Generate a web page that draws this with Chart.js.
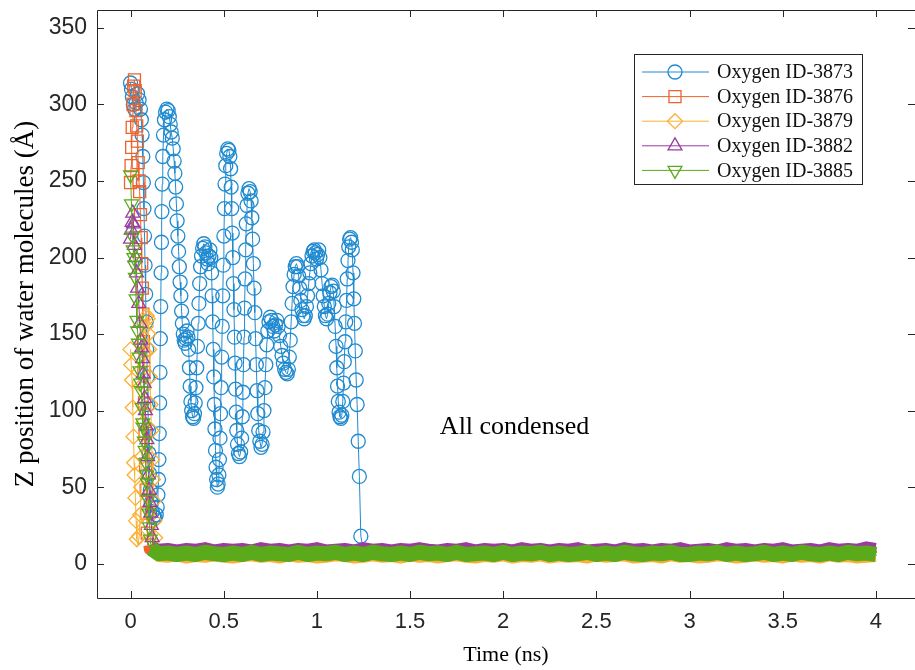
<!DOCTYPE html>
<html>
<head>
<meta charset="utf-8">
<script src="https://cdn.jsdelivr.net/npm/chart.js@4.4.0/dist/chart.umd.min.js"></script>
<style>
html, body { margin: 0; padding: 0; background: #fff; overflow: hidden; }
</style>
</head>
<body>
<canvas id="chart" width="915" height="670"></canvas>
<script>
// series names (legend order)
const seriesNames = ['Oxygen ID-3873', 'Oxygen ID-3876', 'Oxygen ID-3879', 'Oxygen ID-3882', 'Oxygen ID-3885'];

// axis ticks
const xTicks = [0, 0.5, 1, 1.5, 2, 2.5, 3, 3.5, 4];
const yTicks = [0, 50, 100, 150, 200, 250, 300, 350];

// Oxygen ID-3873 : bouncing part (time in ns, z in Å)
const blueTime = [
  0.000, 0.005, 0.010, 0.015, 0.022, 0.030, 0.038, 0.046, 0.053, 0.058, 0.062, 0.066, 0.069, 0.072, 0.075, 0.078,
  0.081, 0.084, 0.087, 0.090, 0.093, 0.096, 0.099, 0.102, 0.106, 0.111, 0.117, 0.124, 0.131, 0.138, 0.143,
  0.147, 0.150, 0.152, 0.154, 0.156, 0.158, 0.160, 0.162, 0.164, 0.166, 0.168, 0.170, 0.173, 0.177, 0.182,
  0.188, 0.195, 0.202, 0.208, 0.213, 0.218,
  0.224, 0.229, 0.234, 0.238, 0.242, 0.246, 0.250, 0.254, 0.258, 0.262, 0.266, 0.270, 0.274, 0.278, 0.283,
  0.288, 0.293, 0.298, 0.303, 0.308, 0.312, 0.316, 0.320, 0.324, 0.328, 0.333, 0.338, 0.343, 0.347, 0.351,
  0.355, 0.359, 0.363, 0.367, 0.371, 0.376, 0.381, 0.387, 0.393, 0.399, 0.405, 0.411, 0.416, 0.421, 0.426,
  0.431, 0.435, 0.438, 0.441, 0.444, 0.447, 0.450, 0.453, 0.456, 0.459, 0.462, 0.466, 0.470, 0.474, 0.477,
  0.480, 0.483, 0.486, 0.489, 0.492, 0.495, 0.498, 0.501, 0.504, 0.507, 0.511, 0.516, 0.522, 0.528, 0.533,
  0.537, 0.540, 0.543, 0.546, 0.549, 0.552, 0.555, 0.558, 0.561, 0.564, 0.567, 0.570, 0.574, 0.579, 0.585,
  0.591, 0.596, 0.600, 0.603, 0.606, 0.609, 0.612, 0.615, 0.618, 0.621, 0.625, 0.630, 0.636, 0.642, 0.647,
  0.651, 0.655, 0.659, 0.663, 0.667, 0.671, 0.675, 0.679, 0.683, 0.688, 0.694,
  0.700, 0.706, 0.711, 0.716, 0.721, 0.726, 0.731, 0.737, 0.743, 0.750, 0.757, 0.764, 0.771, 0.778, 0.785,
  0.792, 0.799, 0.806, 0.813, 0.820, 0.827, 0.834, 0.841, 0.847, 0.852, 0.857, 0.862, 0.867, 0.872, 0.878,
  0.884, 0.890, 0.896, 0.902, 0.908, 0.914, 0.920, 0.926, 0.932, 0.938, 0.944, 0.950, 0.956, 0.962, 0.968,
  0.974, 0.980, 0.986, 0.992, 0.998, 1.004, 1.010, 1.016, 1.022, 1.028, 1.034, 1.040, 1.046, 1.052, 1.058,
  1.064, 1.070, 1.076, 1.082, 1.088, 1.093, 1.098, 1.103, 1.107, 1.111, 1.115, 1.119, 1.124, 1.129, 1.134,
  1.139, 1.143, 1.147, 1.151, 1.155, 1.159, 1.163, 1.167, 1.171, 1.176, 1.181, 1.186, 1.190, 1.194, 1.198,
  1.202, 1.206, 1.211, 1.216, 1.222, 1.228, 1.236
];
const blueZ = [
  314, 310, 305, 300, 297, 301, 307, 303, 297, 290, 280, 266, 249, 232, 214, 195,
  176, 158, 140, 122, 104, 87, 72, 59, 48, 40, 34, 31, 30, 32, 37,
  45, 55, 68, 85, 105, 125, 147, 168, 190, 210, 230, 248, 266, 280, 290,
  295, 297, 296, 292, 287, 282,
  278, 271, 263, 255, 246, 235, 224, 214, 204, 194, 184, 175, 165, 157, 150,
  146, 144, 147, 152, 148, 140, 128, 116, 106, 100, 96, 95, 98, 105, 115,
  128, 142, 157, 170, 183, 194, 201, 206, 209, 207, 203, 199, 196, 201, 205,
  200, 190, 175, 158, 140, 122, 104, 88, 74, 63, 55, 50, 52, 58, 68,
  82, 98, 115, 135, 155, 175, 195, 214, 232, 248, 260, 268, 271, 270, 266,
  258, 246, 232, 216, 200, 183, 166, 148, 131, 114, 99, 87, 78, 72, 70,
  73, 82, 96, 112, 130, 148, 167, 186, 205, 222, 234, 242, 245, 243, 237,
  226, 212, 196, 180, 164, 147, 130, 113, 98, 87, 80,
  76, 78, 86, 100, 115, 130, 143, 152, 158, 161, 159, 155, 152, 156, 159,
  155, 149, 142, 136, 131, 127, 125, 124, 127, 135, 146, 158, 170, 181, 189,
  194, 196, 194, 188, 180, 172, 166, 162, 160, 162, 168, 175, 183, 190, 196,
  201, 204, 205, 203, 199, 202, 205, 200, 192, 183, 175, 168, 162, 160, 163,
  170, 177, 181, 182, 178, 168, 155, 142, 128, 116, 106, 99, 96, 95, 97,
  106, 118, 132, 145, 158, 172, 186, 198, 207, 212, 213, 210, 205, 190, 173,
  157, 139, 120, 104, 80, 57, 18
];

// Oxygen ID-3876 : falling part
const orangeTime = [0.000, 0.003, 0.006, 0.009, 0.013, 0.017, 0.021, 0.025, 0.029, 0.033, 0.037, 0.041, 0.045, 0.049,
  0.053, 0.057, 0.060, 0.063, 0.066, 0.069, 0.072, 0.075, 0.078, 0.081, 0.084, 0.087, 0.090, 0.093, 0.096];
const orangeZ = [249, 260, 272, 285, 300, 312, 316, 309, 296, 286, 276, 262, 250, 243,
  228, 213, 196, 180, 163, 145, 125, 105, 85, 65, 48, 33, 20, 12, 9];

// Oxygen ID-3879 : falling part
const yellowTime = [0.000, 0.004, 0.008, 0.012, 0.016, 0.019, 0.022, 0.026, 0.030, 0.034, 0.040, 0.046, 0.052, 0.057,
  0.062, 0.067, 0.072, 0.077, 0.082, 0.087, 0.092, 0.096, 0.100, 0.104, 0.108, 0.112, 0.116, 0.120, 0.124, 0.128,
  0.132, 0.136];
const yellowZ = [140, 130, 120, 102, 83, 66, 58, 43, 28, 16, 12, 18, 32, 50,
  70, 92, 115, 138, 155, 162, 160, 150, 140, 122, 104, 87, 68, 55, 41, 28,
  17, 10];

// Oxygen ID-3882 : falling part
const purpleTime = [0.000, 0.004, 0.008, 0.012, 0.016, 0.020, 0.026, 0.032, 0.038, 0.044, 0.050, 0.055, 0.060, 0.064,
  0.068, 0.072, 0.076, 0.080, 0.084, 0.088, 0.092, 0.096, 0.100, 0.104, 0.108, 0.112, 0.116, 0.120];
const purpleZ = [212, 218, 223, 229, 222, 208, 200, 190, 180, 170, 157, 146, 141, 134,
  124, 118, 108, 100, 90, 81, 70, 58, 48, 40, 33, 25, 17, 12];

// Oxygen ID-3885 : falling part
const greenTime = [0.000, 0.005, 0.010, 0.014, 0.018, 0.022, 0.026, 0.030, 0.034, 0.038, 0.042, 0.046, 0.050, 0.054,
  0.058, 0.062, 0.066, 0.070, 0.074, 0.078, 0.082, 0.086, 0.090, 0.094, 0.098, 0.102, 0.106, 0.110];
const greenZ = [254, 235, 214, 205, 200, 195, 187, 173, 159, 152, 144, 135, 126, 118,
  113, 102, 92, 89, 80, 74, 66, 58, 53, 42, 33, 24, 16, 10];

// condensed layer near the surface, sampled every 0.05 ns
const bandTime = [0.15, 0.2, 0.25, 0.3, 0.35, 0.4, 0.45, 0.5, 0.55, 0.6, 0.65, 0.7, 0.75, 0.8, 0.85, 0.9, 0.95, 1,
  1.05, 1.1, 1.15, 1.2, 1.25, 1.3, 1.35, 1.4, 1.45, 1.5, 1.55, 1.6, 1.65, 1.7, 1.75, 1.8, 1.85, 1.9, 1.95, 2,
  2.05, 2.1, 2.15, 2.2, 2.25, 2.3, 2.35, 2.4, 2.45, 2.5, 2.55, 2.6, 2.65, 2.7, 2.75, 2.8, 2.85, 2.9, 2.95, 3,
  3.05, 3.1, 3.15, 3.2, 3.25, 3.3, 3.35, 3.4, 3.45, 3.5, 3.55, 3.6, 3.65, 3.7, 3.75, 3.8, 3.85, 3.9, 3.95, 4];
const blueBand = [8, 7, 9, 7, 8, 9, 7, 9, 7, 8, 9, 7, 9, 7, 8, 7, 9, 7, 9, 8, 7, 9, 7, 8, 9, 7, 9, 7, 8, 7,
  9, 7, 9, 8, 7, 9, 7, 9, 7, 8, 9, 7, 8, 7, 9, 7, 9, 7, 8, 7, 9, 8, 7, 9, 7, 8];
const orangeBand = [7, 6, 8, 6, 7, 8, 6, 8, 6, 7, 8, 6, 8, 6, 7, 6, 8, 6, 8, 7, 6, 8, 6, 7, 8, 6, 8, 6, 7, 6,
  8, 6, 8, 7, 6, 8, 6, 8, 6, 7, 8, 6, 7, 6, 8, 6, 8, 6, 7, 8, 6, 8, 6, 7, 6, 8, 6, 8, 7, 6,
  8, 6, 8, 6, 7, 8, 6, 6, 8, 7, 6, 8, 6, 7, 8, 6, 8, 10];
const yellowBand = [4, 3.5, 4.5, 3, 4, 3.5, 4.5, 3.5, 3, 4, 4.5, 3.5, 4, 3, 4.5, 3.5, 4, 3, 3.5, 4.5, 4, 3, 3.5, 4.5, 3.5, 4, 3, 4.5, 3.5, 4,
  3, 4, 4.5, 3.5, 3, 4, 3.5, 4.5, 3, 4, 3.5, 4.5, 3, 4, 3.5, 4, 3, 4.5, 3.5, 4, 4.5, 3, 3.5, 4, 3, 4.5, 3.5, 4, 3, 3.5,
  4.5, 4, 3, 3.5, 4.5, 3.5, 4, 3, 4.5, 3.5, 4, 3, 4.5, 3.5, 4, 3, 3.5, 4];
const purpleBand = [10.5, 11, 10, 11, 10.5, 11.5, 10, 11, 10.5, 11, 10, 11.5, 10.5, 11, 10, 11, 10.5, 11.5, 10, 10.5, 11, 10, 11.5, 10.5, 11, 10, 11, 10.5, 11.5, 10.5,
  10, 11, 10.5, 11.5, 10, 11, 10.5, 11, 10, 11.5, 10.5, 11, 10, 11, 10.5, 11.5, 10, 10.5, 11, 10, 11.5, 10.5, 11, 10, 11, 10.5, 11.5, 10, 10.5, 11,
  10, 11.5, 10.5, 11, 10, 11, 10.5, 11.5, 10, 10.5, 11, 10, 11.5, 10.5, 11, 10.5, 12, 11];
const greenBand = [6.5, 7, 6, 7, 6, 7.5, 6.5, 6, 7, 6, 7.5, 6, 7, 6.5, 6, 7.5, 6, 7, 6.5, 7.5, 6, 7, 6, 7.5, 6.5, 6, 7, 6, 7.5, 6.5,
  7, 6, 7.5, 6, 6.5, 7, 6, 7.5, 6, 7, 6.5, 7.5, 6, 7, 6, 6.5, 7.5, 6, 7, 6, 7.5, 6.5, 6, 7, 6.5, 7.5, 6, 6, 7, 6.5,
  7.5, 6, 7, 6, 6.5, 7.5, 6, 7, 6, 7.5, 6.5, 6, 7, 6, 7.5, 6.5, 7, 6];

// "All condensed" note, in data units
const note = { text: 'All condensed', x: 1.66, y: 89 };

// look of each series
const looks = [
  { color: '#1f8ad0', point: 'circle', rot: 0, r: 7, band: 9 },
  { color: '#f0622a', point: 'rect', rot: 0, r: 8.5, band: 9 },
  { color: '#fbb031', point: 'rectRot', rot: 0, r: 7.5, band: 9 },
  { color: '#9b3aa0', point: 'triangle', rot: 0, r: 8, band: 8 },
  { color: '#5aaa1c', point: 'triangle', rot: 180, r: 8, band: 15 }
];

const serifFont = '"Liberation Serif", "Times New Roman", serif';
const sansFont = '"Liberation Sans", Arial, sans-serif';
const axisColor = '#262626';

function buildSeries(time, z, band) {
  const pts = time.map((t, i) => ({ x: t, y: z[i] }));
  const bt = bandTime.slice(Math.max(0, bandTime.length - band.length));
  return pts.concat(bt.map((t, i) => ({ x: t, y: band[i] })));
}

const allData = [
  buildSeries(blueTime, blueZ, blueBand),
  buildSeries(orangeTime, orangeZ, orangeBand),
  buildSeries(yellowTime, yellowZ, yellowBand),
  buildSeries(purpleTime, purpleZ, purpleBand),
  buildSeries(greenTime, greenZ, greenBand)
];

const datasets = allData.map((data, i) => {
  const lk = looks[i];
  return {
    label: seriesNames[i],
    data: data,
    borderColor: lk.color,
    backgroundColor: lk.color,
    borderWidth: 1,
    borderJoinStyle: 'round',
    tension: 0,
    fill: false,
    pointStyle: lk.point,
    pointRotation: lk.rot,
    pointRadius: ctx => (ctx.raw && ctx.raw.y < 15) ? 0 : lk.r,
    pointHoverRadius: 0,
    pointBorderColor: lk.color,
    pointBackgroundColor: 'rgba(0,0,0,0)',
    pointBorderWidth: 1.3,
    segment: {
      borderWidth: ctx => (ctx.p0.parsed.y < 15 && ctx.p1.parsed.y < 15) ? lk.band : undefined
    },
    order: 5 - i
  };
});

// the plot box runs to the right edge of the picture (as in the figure)
const stretchPlugin = {
  id: 'stretch',
  afterLayout(chart) {
    const xs = chart.scales.x;
    const extra = chart.width - xs.right;
    if (extra <= 0) return;
    xs.right += extra;
    xs.width += extra;
    chart.chartArea.right += extra;
    chart.chartArea.width += extra;
    xs.configure();
  }
};

// frame with inward ticks, the note and the legend box
const framePlugin = {
  id: 'frame',
  afterDatasetsDraw(chart) {
    const ctx = chart.ctx;
    const a = chart.chartArea;
    const xs = chart.scales.x, ys = chart.scales.y;
    ctx.save();
    ctx.strokeStyle = axisColor;
    ctx.lineWidth = 1;
    ctx.beginPath();
    ctx.moveTo(a.left + 0.5, a.top + 0.5);
    ctx.lineTo(a.left + 0.5, a.bottom + 0.5);
    ctx.lineTo(a.right + 0.5, a.bottom + 0.5);
    ctx.moveTo(a.left + 0.5, a.top + 0.5);
    ctx.lineTo(a.right + 0.5, a.top + 0.5);
    xTicks.forEach(v => {
      const px = Math.round(xs.getPixelForValue(v)) + 0.5;
      ctx.moveTo(px, a.bottom); ctx.lineTo(px, a.bottom - 7);
      ctx.moveTo(px, a.top); ctx.lineTo(px, a.top + 7);
    });
    yTicks.forEach(v => {
      const py = Math.round(ys.getPixelForValue(v)) + 0.5;
      ctx.moveTo(a.left, py); ctx.lineTo(a.left + 7, py);
      ctx.moveTo(a.right, py); ctx.lineTo(a.right - 7, py);
    });
    ctx.stroke();

    // note
    ctx.fillStyle = '#000';
    ctx.font = '26px ' + serifFont;
    ctx.textBaseline = 'middle';
    ctx.textAlign = 'left';
    ctx.fillText(note.text, xs.getPixelForValue(note.x), ys.getPixelForValue(note.y));

    // legend
    const box = { x: 634.5, y: 54.5, w: 228, h: 130 };
    ctx.fillStyle = '#fff';
    ctx.fillRect(box.x, box.y, box.w, box.h);
    ctx.strokeStyle = axisColor;
    ctx.strokeRect(box.x, box.y, box.w, box.h);
    ctx.font = '20px ' + serifFont;
    chart.data.datasets.forEach((ds, i) => {
      const lk = looks[i];
      const yy = 72 + i * 24.6;
      ctx.strokeStyle = lk.color;
      ctx.lineWidth = 1;
      ctx.beginPath();
      ctx.moveTo(642, yy);
      ctx.lineTo(709, yy);
      ctx.stroke();
      ctx.fillStyle = 'rgba(0,0,0,0)';
      ctx.lineWidth = 1.3;
      Chart.helpers.drawPoint(ctx, { pointStyle: lk.point, rotation: lk.rot, radius: lk.r, borderWidth: 1.3 }, 675, yy);
      ctx.fillStyle = '#111';
      ctx.fillText(ds.label, 717, yy + 1);
    });
    ctx.restore();
  }
};

new Chart(document.getElementById('chart'), {
  type: 'line',
  data: { datasets: datasets },
  options: {
    responsive: false,
    animation: false,
    events: [],
    layout: { padding: { top: 10, right: 0, bottom: 0, left: 0 } },
    plugins: { legend: { display: false }, tooltip: { enabled: false } },
    scales: {
      x: {
        type: 'linear',
        min: -0.18,
        max: 4.21,
        afterBuildTicks: s => { s.ticks = xTicks.map(v => ({ value: v })); },
        afterFit: s => { s.height = 72; },
        grid: { display: false, drawTicks: false },
        border: { display: false },
        ticks: {
          color: axisColor,
          font: { family: sansFont, size: 22 },
          padding: 11,
          maxRotation: 0,
          autoSkip: false,
          callback: v => String(v)
        },
        title: {
          display: true,
          text: 'Time (ns)',
          color: '#000',
          font: { family: serifFont, size: 22 },
          padding: { top: 0, bottom: 2 }
        }
      },
      y: {
        type: 'linear',
        min: -22.4,
        max: 361.7,
        afterBuildTicks: s => { s.ticks = yTicks.map(v => ({ value: v })); },
        afterFit: s => { s.width = 97; s.paddingTop = 0; s.paddingBottom = 0; },
        grid: { display: false, drawTicks: false },
        border: { display: false },
        ticks: {
          color: axisColor,
          font: { family: sansFont, size: 23 },
          padding: 10,
          autoSkip: false,
          callback: v => String(v)
        },
        title: {
          display: true,
          text: 'Z position of water molecules (Å)',
          color: '#000',
          font: { family: serifFont, size: 27 },
          padding: { top: 10, bottom: 0 }
        }
      }
    }
  },
  plugins: [stretchPlugin, framePlugin]
});
</script>
</body>
</html>
